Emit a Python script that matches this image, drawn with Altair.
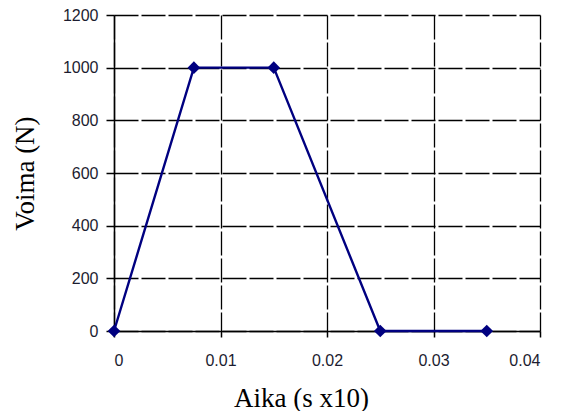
import altair as alt
import pandas as pd

time = [0, 0.0075, 0.015, 0.025, 0.035]
force = [0, 1000, 1000, 0, 0]
x_ticks = [0, 0.01, 0.02, 0.03, 0.04]
y_ticks = [0, 200, 400, 600, 800, 1000, 1200]

df = pd.DataFrame({"t": time, "f": force})

label_font = "Liberation Sans"
title_font = "Liberation Serif"

base = alt.Chart(df).encode(
    x=alt.X(
        "t:Q",
        scale=alt.Scale(domain=[0, 0.04], nice=False, zero=False),
        axis=alt.Axis(
            values=x_ticks,
            format=".2~f",
            title="Aika (s x10)",
            tickSize=6,
            labelPadding=15,
            titleX=187,
            titleY=75,
            titleAlign="center",
            titleBaseline="alphabetic",
        ),
    ),
    y=alt.Y(
        "f:Q",
        scale=alt.Scale(domain=[0, 1200], nice=False),
        axis=alt.Axis(
            values=y_ticks,
            format="d",
            title="Voima (N)",
            tickSize=8,
            labelPadding=8,
            titleX=-81,
            titleY=158,
            titleAngle=270,
            titleAlign="center",
            titleBaseline="alphabetic",
        ),
    ),
)

line = base.mark_line(color="#000080", strokeWidth=2.4)
pts = base.mark_point(shape="diamond", filled=True, color="#000080", size=160, opacity=1)

chart = (
    (line + pts)
    .properties(
        width=426,
        height=316,
        autosize=alt.AutoSizeParams(type="none"),
        padding={"left": 106, "top": 7, "right": 18, "bottom": 80},
    )
    .configure_view(stroke=None)
    .configure_axis(
        grid=True,
        gridColor="#000000",
        gridWidth=1.3,
        gridDash=[24, 3],
        gridOpacity=1,
        domainColor="#000000",
        domainWidth=1.5,
        tickColor="#000000",
        tickWidth=1.5,
        labelFont=label_font,
        labelFontSize=16,
        labelColor="#1c1c30",
        titleFont=title_font,
        titleFontSize=27,
        titleFontWeight="normal",
        titleColor="#000000",
    )
)

chart.save("out.html", embed_options={"renderer": "svg", "actions": False})
